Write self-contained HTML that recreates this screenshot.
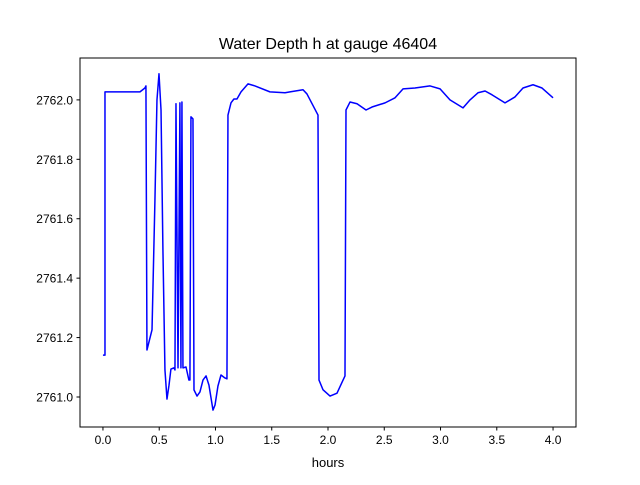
<!DOCTYPE html>
<html><head><meta charset="utf-8"><style>
body{margin:0;background:#fff;}
svg text{font-family:"Liberation Sans","DejaVu Sans",sans-serif;fill:#000;}
</style></head><body>
<svg id="chart" width="640" height="480" xmlns="http://www.w3.org/2000/svg">
<rect width="640" height="480" fill="#fff"/>
<text x="328" y="49" font-size="16" text-anchor="middle">Water Depth h at gauge 46404</text>
<text x="328" y="467" font-size="13" text-anchor="middle">hours</text>
<g id="plot"></g>
</svg>
<script>
const times=[0,0.018,0.018,0.329,0.373,0.382,0.391,0.436,0.462,0.480,0.498,0.516,0.533,0.551,0.569,0.587,0.604,0.631,0.640,0.649,0.667,0.684,0.693,0.702,0.711,0.738,0.764,0.773,0.782,0.800,0.809,0.836,0.862,0.889,0.916,0.942,0.978,0.996,1.022,1.049,1.084,1.102,1.111,1.138,1.164,1.191,1.227,1.289,1.351,1.484,1.618,1.662,1.778,1.813,1.911,1.920,1.956,2.018,2.080,2.151,2.160,2.196,2.258,2.338,2.391,2.507,2.596,2.667,2.773,2.907,2.996,3.084,3.200,3.262,3.333,3.396,3.458,3.573,3.662,3.733,3.822,3.902,4.000];
const depths=[2761.141,2761.141,2762.027,2762.027,2762.040,2762.047,2761.158,2761.226,2761.663,2762.000,2762.088,2761.966,2761.495,2761.091,2760.993,2761.040,2761.094,2761.098,2761.091,2761.987,2761.098,2761.990,2761.098,2761.993,2761.098,2761.101,2761.057,2761.057,2761.943,2761.936,2761.024,2761.003,2761.017,2761.057,2761.071,2761.040,2760.956,2760.973,2761.037,2761.074,2761.064,2761.061,2761.949,2761.990,2762.003,2762.003,2762.027,2762.054,2762.047,2762.027,2762.024,2762.027,2762.034,2762.020,2761.949,2761.057,2761.024,2761.003,2761.013,2761.071,2761.966,2761.993,2761.987,2761.966,2761.976,2761.990,2762.007,2762.037,2762.040,2762.047,2762.037,2762.000,2761.973,2762.000,2762.024,2762.030,2762.017,2761.990,2762.010,2762.040,2762.051,2762.040,2762.007];
const xTicks=[0,0.5,1,1.5,2,2.5,3,3.5,4];
const xTickLabels=["0.0","0.5","1.0","1.5","2.0","2.5","3.0","3.5","4.0"];
const yTicks=[2761.0,2761.2,2761.4,2761.6,2761.8,2762.0];
const yTickLabels=["2761.0","2761.2","2761.4","2761.6","2761.8","2762.0"];
const L=80,R=576,T=58,B=427;
const xMin=-0.204,xMax=4.204,yMin=2760.899,yMax=2762.141;
function X(t){return L+(t-xMin)/(xMax-xMin)*(R-L);}
function Y(v){return B-(v-yMin)/(yMax-yMin)*(B-T);}
const NS="http://www.w3.org/2000/svg";
const g=document.getElementById('plot');
function mk(tag,attrs){const e=document.createElementNS(NS,tag);for(const k in attrs)e.setAttribute(k,attrs[k]);g.appendChild(e);return e;}
const line=mk('polyline',{points:times.map((t,i)=>X(t).toFixed(2)+','+Y(depths[i]).toFixed(2)).join(' '),fill:'none',stroke:'#0000ff','stroke-width':1.5,'stroke-linejoin':'round'});


const frame=mk('rect',{x:L,y:T,width:R-L,height:B-T,fill:'none',stroke:'#000','stroke-width':1});


xTicks.forEach((t,i)=>{
  const tk=mk('line',{x1:X(t),x2:X(t),y1:B,y2:B+3.5,stroke:'#000'});
  
  
  const tx=mk('text',{x:X(t),y:B+17,'font-size':12,'text-anchor':'middle'});
  tx.textContent=xTickLabels[i];
  
  
});
yTicks.forEach((v,i)=>{
  const tk=mk('line',{x1:L-3.5,x2:L,y1:Y(v),y2:Y(v),stroke:'#000'});
  
  
  const tx=mk('text',{x:L-7,y:Y(v)+4.5,'font-size':12,'text-anchor':'end'});
  tx.textContent=yTickLabels[i];
  
  
});
</script>
</body></html>
